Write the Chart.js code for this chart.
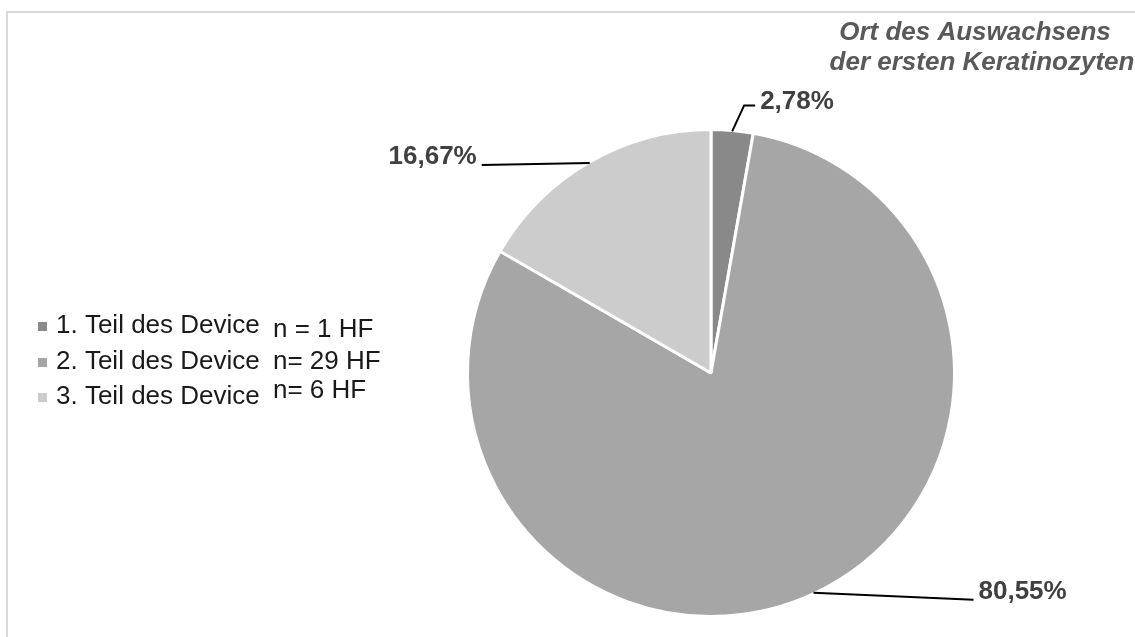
<!DOCTYPE html>
<html>
<head>
<meta charset="utf-8">
<script src="https://cdn.jsdelivr.net/npm/chart.js@4/dist/chart.umd.min.js"></script>
<style>
  html, body { margin: 0; padding: 0; background: #fff; }
  #wrap { width: 1135px; height: 637px; position: relative; }
</style>
</head>
<body>
<div id="wrap"><canvas id="myChart" width="1135" height="637"></canvas></div>
<script>
const categories = ['1. Teil des Device', '2. Teil des Device', '3. Teil des Device'];
const counts = ['n = 1 HF', 'n= 29 HF', 'n= 6 HF'];
const percents = [2.78, 80.55, 16.67];
const percentLabels = ['2,78%', '80,55%', '16,67%'];
const colors = ['#898989', '#a6a6a6', '#cccccc'];
const titleLines = ['Ort des Auswachsens', 'der ersten Keratinozyten'];

// leader line shape per slice: elbow offsets from the arc edge, and text side
const leaders = [
  { pts: [[12, -26], [23, -26]], align: 'left', dx: 5, dy: -4 },
  { pts: [[160, 7]], align: 'left', dx: 5, dy: -8 },
  { pts: [[-108, 2]], align: 'right', dx: -5, dy: -8 }
];

const decorPlugin = {
  id: 'decor',
  beforeDraw: (chart) => {
    const ctx = chart.ctx;
    ctx.save();
    ctx.strokeStyle = '#d9d9d9';
    ctx.lineWidth = 2;
    ctx.beginPath();
    ctx.moveTo(7, 700);
    ctx.lineTo(7, 12);
    ctx.lineTo(1140, 12);
    ctx.stroke();
    ctx.restore();
  },
  afterDraw: (chart) => {
    const ctx = chart.ctx;
    const meta = chart.getDatasetMeta(0);
    ctx.save();

    // labels with leader lines
    meta.data.forEach((arc, i) => {
      const p = arc.getProps(['x', 'y', 'startAngle', 'endAngle', 'outerRadius'], true);
      const mid = (p.startAngle + p.endAngle) / 2;
      const sx = p.x + Math.cos(mid) * (p.outerRadius - 1);
      const sy = p.y + Math.sin(mid) * (p.outerRadius - 1);
      const L = leaders[i];
      ctx.strokeStyle = '#000';
      ctx.lineWidth = 2;
      ctx.beginPath();
      ctx.moveTo(sx, sy);
      let ex = sx, ey = sy;
      L.pts.forEach(([ox, oy]) => {
        ex = sx + ox; ey = sy + oy;
        ctx.lineTo(ex, ey);
      });
      ctx.stroke();
      ctx.fillStyle = '#404040';
      ctx.font = 'bold 26px "Liberation Sans", Arial, sans-serif';
      ctx.textAlign = L.align;
      ctx.textBaseline = 'middle';
      ctx.fillText(percentLabels[i], ex + L.dx, ey + L.dy);
    });

    // title
    ctx.fillStyle = '#595959';
    ctx.font = 'italic bold 26px "Liberation Sans", Arial, sans-serif';
    ctx.textAlign = 'center';
    ctx.textBaseline = 'middle';
    ctx.fillText(titleLines[0], 975, 33);
    ctx.fillText(titleLines[1], 982, 63);

    // legend
    const rowY = [326, 362, 397];
    const nY = [330, 362, 391];
    ctx.font = '26px "Liberation Sans", Arial, sans-serif';
    ctx.textAlign = 'left';
    categories.forEach((c, i) => {
      ctx.fillStyle = colors[i];
      ctx.fillRect(38, rowY[i] - 4, 9, 9);
      ctx.fillStyle = '#1a1a1a';
      ctx.fillText(c, 56, rowY[i]);
      ctx.fillText(counts[i], 273, nY[i]);
    });
    ctx.restore();
  }
};

const ctx = document.getElementById('myChart').getContext('2d');
const myChart = new Chart(ctx, {
  type: 'pie',
  data: {
    labels: categories,
    datasets: [{
      data: percents,
      backgroundColor: colors,
      borderColor: '#ffffff',
      borderWidth: 3
    }]
  },
  options: {
    responsive: false,
    animation: false,
    layout: { padding: { left: 466, right: 179, top: 127, bottom: 18 } },
    plugins: {
      legend: { display: false },
      tooltip: { enabled: false },
      title: { display: false }
    }
  },
  plugins: [decorPlugin]
});
</script>
</body>
</html>
